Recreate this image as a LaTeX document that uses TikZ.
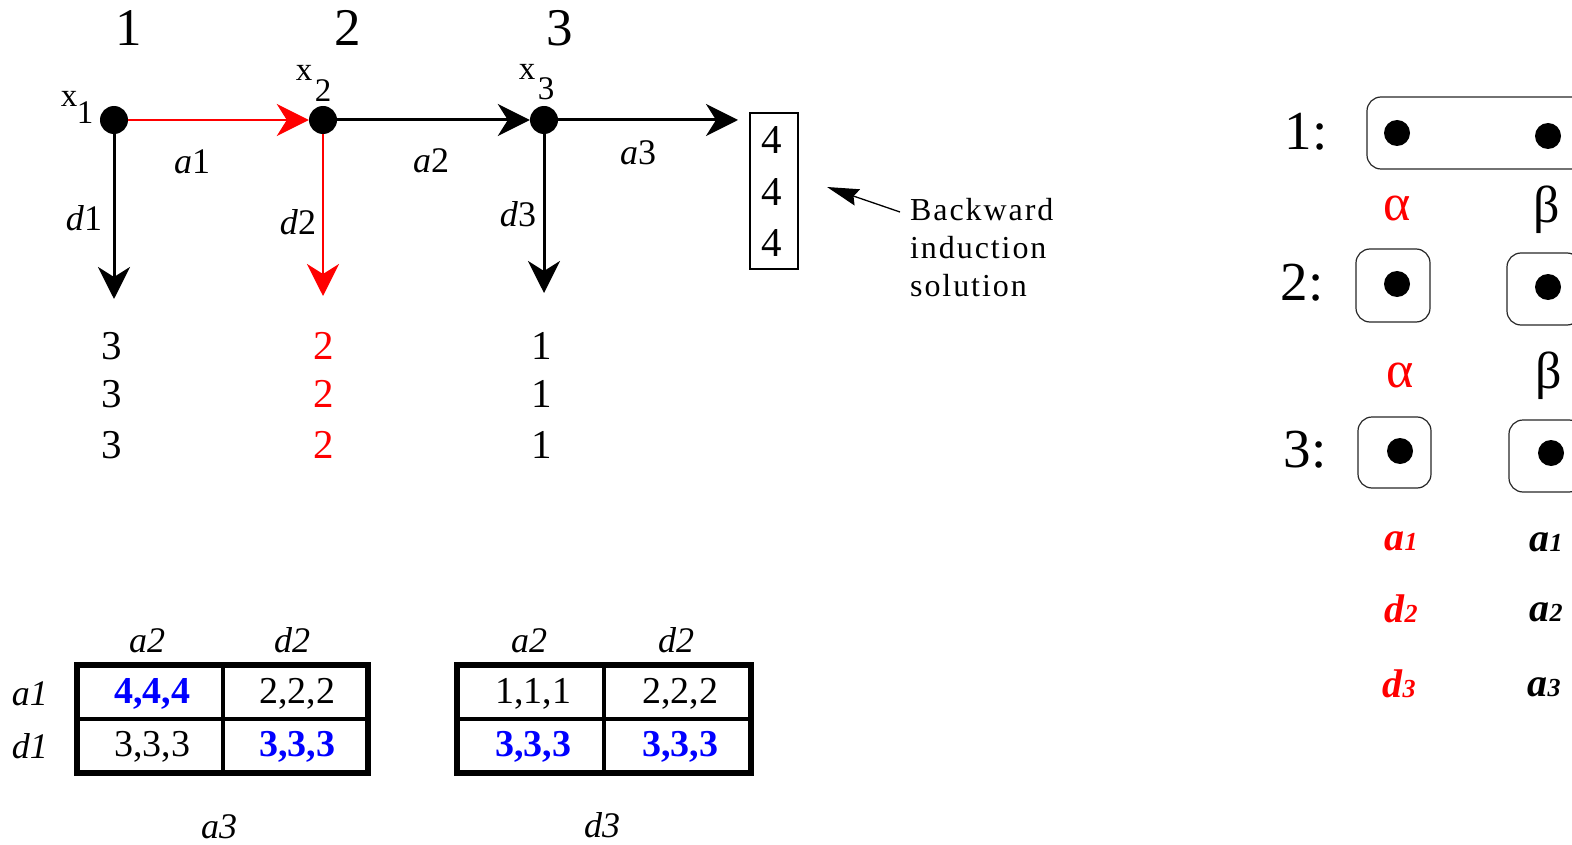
\documentclass[tikz,border=0pt]{standalone}
\usepackage{fontspec}
\setmainfont{Liberation Serif}
\newfontfamily\spacedfont[LetterSpace=6]{Liberation Serif}
\usetikzlibrary{arrows.meta}
\newcommand\fsz[1]{\fontsize{#1}{#1}\selectfont}
\begin{document}
\begin{tikzpicture}[x=1pt,y=-1pt,
  dot/.style={circle,fill=black,inner sep=0pt,minimum size=28pt},
  sdot/.style={circle,fill=black,inner sep=0pt,minimum size=26pt},
  branch/.style={line width=3pt,-{Stealth[length=32pt,width=32pt,inset=10pt]}},
  redbranch/.style={branch,red,line width=2.6pt},
  txt/.style={inner sep=0pt},
  big/.style={txt,font=\fsz{53}},
  xl/.style={txt,font=\fsz{33}},
  lbl/.style={txt,font=\fsz{36}},
  pay/.style={txt,font=\fsz{41}},
  cell/.style={txt,font=\fsz{38}},
  bcell/.style={txt,font=\fsz{38}\bfseries,text=blue},
  ilbl/.style={txt,font=\fsz{36}\itshape},
  rl/.style={txt,font=\fsz{55}},
  greek/.style={txt,font=\fsz{52}},
  bi/.style={txt,font=\fsz{40}\bfseries\itshape},
  infobox/.style={draw=black!85,line width=1.2pt,rounded corners=14pt},
  outer/.style={line width=6pt},
  inner/.style={line width=4pt}
]
\useasboundingbox (0,0) rectangle (1572,845);
\clip (0,0) rectangle (1572,845);

% stage numbers
\node[big] (n1) at (129,28) {1};
\node[big] (n2) at (348,28) {2};
\node[big] (n3) at (560,28) {3};

% decision nodes
\node[dot] (x1) at (114,120) {};
\node[dot] (x2) at (323,120) {};
\node[dot] (x3) at (544,120) {};
\node[xl] (x1l) at (69,99) {x};
\node[xl] (x1s) at (85,113) {1};
\node[xl] (x2l) at (304,73) {x};
\node[xl] (x2s) at (323,91) {2};
\node[xl] (x3l) at (527,72) {x};
\node[xl] (x3s) at (546,89) {3};

\coordinate (e1) at (114,299);
\coordinate (e2) at (323,296);
\coordinate (e3) at (544,293);
\coordinate (e4) at (738,120);

\draw[redbranch] (x1) -- (x2);
\draw[branch] (x2) -- (x3);
\draw[branch] (x3) -- (e4);
\draw[branch] (x1) -- (e1);
\draw[redbranch] (x2) -- (e2);
\draw[branch] (x3) -- (e3);

\node[lbl] (la1) at (192,162) {\textit{a}1};
\node[lbl] (la2) at (431,161) {\textit{a}2};
\node[lbl] (la3) at (638,153) {\textit{a}3};
\node[lbl] (ld1) at (84,218) {\textit{d}1};
\node[lbl] (ld2) at (298,222) {\textit{d}2};
\node[lbl] (ld3) at (518,214) {\textit{d}3};

% payoffs
\foreach \y [count=\i] in {346,394,445}{
  \node[pay] (p1\i) at (112,\y) {3};
  \node[pay,text=red] (p2\i) at (324,\y) {2};
  \node[pay] (p3\i) at (542,\y) {1};
}

% backward induction box
\node[draw,line width=1.2pt,inner sep=0pt,minimum width=48pt,minimum height=156pt] (pbox) at (774,191) {};
\node[pay] (q1) at (772,140) {4};
\node[pay] (q2) at (772,192) {4};
\node[pay] (q3) at (772,243) {4};
\coordinate (btip) at (827,187);
\coordinate (bstart) at (900,212);
\draw[line width=1.3pt,-{Stealth[length=32pt,width=17pt,inset=4pt]}] (bstart) -- (btip);
\node[txt,anchor=north west,align=left,font=\spacedfont\fsz{32}\linespread{1}\selectfont] (bi) at (910,198)
  {Backward\\[6pt]induction\\[6pt]solution};

% table 1
\draw[outer] (77,665) rectangle (368,773);
\draw[inner] (223,665) -- (223,773);
\draw[inner] (77,719) -- (368,719);
\node[ilbl] (t1h1) at (147,641) {a2};
\node[ilbl] (t1h2) at (292,640) {d2};
\node[ilbl] (t1r1) at (30,694) {a1};
\node[ilbl] (t1r2) at (30,746) {d1};
\node[bcell] (c11) at (152,694) {4,4,4};
\node[cell] (c12) at (297,694) {2,2,2};
\node[cell] (c21) at (152,747) {3,3,3};
\node[bcell] (c22) at (297,747) {3,3,3};
\node[ilbl] (t1b) at (219,827) {a3};

% table 2
\draw[outer] (457,665) rectangle (751,773);
\draw[inner] (604,665) -- (604,773);
\draw[inner] (457,719) -- (751,719);
\node[ilbl] (t2h1) at (529,641) {a2};
\node[ilbl] (t2h2) at (676,640) {d2};
\node[cell] (k11) at (533,694) {1,1,1};
\node[cell] (k12) at (680,694) {2,2,2};
\node[bcell] (k21) at (533,747) {3,3,3};
\node[bcell] (k22) at (680,747) {3,3,3};
\node[ilbl] (t2b) at (602,825) {d3};

% right panel
\node[rl] (r1) at (1306,132) {1:};
\node[rl] (r2) at (1302,283) {2:};
\node[rl] (r3) at (1305,450) {3:};
\draw[infobox] (1367,97) rectangle (1620,169);
\node[sdot] (s1a) at (1397,133) {};
\node[sdot] (s1b) at (1548,136) {};
\node[greek,text=red] (g1a) at (1397,208) {α};
\node[greek] (g1b) at (1547,210) {β};
\draw[infobox] (1356,249) rectangle (1430,322);
\draw[infobox] (1507,253) rectangle (1581,325);
\node[sdot] (s2a) at (1397,284) {};
\node[sdot] (s2b) at (1548,287) {};
\node[greek,text=red] (g2a) at (1400,375) {α};
\node[greek] (g2b) at (1549,376) {β};
\draw[infobox] (1358,417) rectangle (1431,488);
\draw[infobox] (1509,420) rectangle (1583,492);
\node[sdot] (s3a) at (1400,451) {};
\node[sdot] (s3b) at (1551,453) {};
\node[bi,text=red] (m1) at (1401,541) {a{\fsz{26}1}};
\node[bi,text=red] (m2) at (1401,609) {d{\fsz{26}2}};
\node[bi,text=red] (m3) at (1399,684) {d{\fsz{26}3}};
\node[bi] (m4) at (1546,542) {a{\fsz{26}1}};
\node[bi] (m5) at (1546,612) {a{\fsz{26}2}};
\node[bi] (m6) at (1544,687) {a{\fsz{26}3}};
\end{tikzpicture}
\end{document}
